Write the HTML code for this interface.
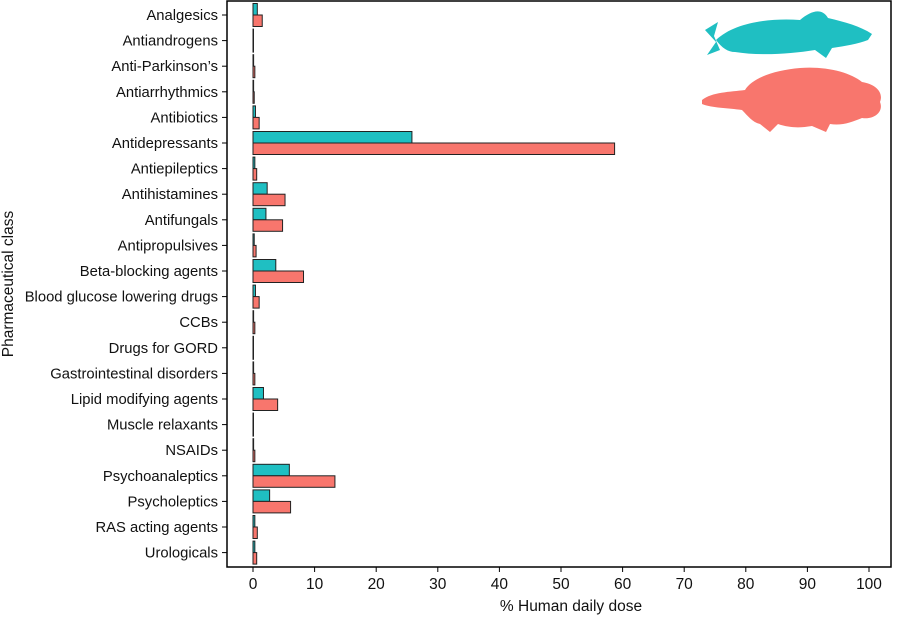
<!DOCTYPE html>
<html><head><meta charset="utf-8"><style>
body{margin:0;background:#fff;}
svg text{font-family:"Liberation Sans",sans-serif;fill:#111;}
</style></head><body>
<svg id="chart" width="900" height="616" xmlns="http://www.w3.org/2000/svg">
<g id="icons">
  <path fill="#1fbfc2" d="M705,30 L718,22 L714,36 L720,50 L707,55 L716,42 Z M716,40 C735,22 770,18 800,20 C812,10 822,8 828,18 C845,22 860,26 872,34 L868,40 C858,44 845,46 832,48 L826,58 L815,50 C790,54 760,56 735,52 C728,52 722,48 716,40 Z"/>
  <path fill="#f8766d" d="M702,100 C712,92 730,92 745,90 C752,78 775,70 800,68 C825,66 850,72 862,82 C875,84 884,92 880,102 C884,112 874,120 862,118 C852,122 842,126 830,124 L826,132 L812,126 C800,128 790,128 778,124 L770,132 L760,124 C752,122 748,116 742,110 C728,108 712,108 702,104 Z"/>
</g>
<g id="plot"></g>
</svg>
<script>
const categories=["Analgesics","Antiandrogens","Anti-Parkinson\u2019s","Antiarrhythmics","Antibiotics","Antidepressants","Antiepileptics","Antihistamines","Antifungals","Antipropulsives","Beta-blocking agents","Blood glucose lowering drugs","CCBs","Drugs for GORD","Gastrointestinal disorders","Lipid modifying agents","Muscle relaxants","NSAIDs","Psychoanaleptics","Psycholeptics","RAS acting agents","Urologicals"];
const fishValues=[0.7,0.02,0.1,0.1,0.4,25.8,0.3,2.3,2.1,0.2,3.7,0.4,0.1,0.02,0.1,1.7,0.02,0.1,5.9,2.7,0.3,0.3];
const platypusValues=[1.5,0.05,0.3,0.2,1.0,58.7,0.6,5.2,4.8,0.5,8.2,1.0,0.3,0.05,0.3,4.0,0.05,0.3,13.3,6.1,0.7,0.6];
const xTicks=[0,10,20,30,40,50,60,70,80,90,100];

const NS="http://www.w3.org/2000/svg";
const g=document.getElementById('plot');
const L=227,R=891,T=1,B=567;
const x=v=>253+v*6.16;
const y=i=>15+i*25.6;
function mk(tag,attrs){const e=document.createElementNS(NS,tag);for(const k in attrs)e.setAttribute(k,attrs[k]);g.appendChild(e);return e;}

const frame=mk('rect',{x:L,y:T,width:R-L,height:B-T,fill:'none',stroke:'#000','stroke-width':1.5});



categories.forEach((c,i)=>{
  const cy=y(i);
  const t=mk('line',{x1:L-5,x2:L,y1:cy,y2:cy,stroke:'#000','stroke-width':1});
  
  
  const lb=mk('text',{x:L-9,y:cy+5,'text-anchor':'end','font-size':14.8});
  lb.textContent=c;
  
  
  const b1=mk('rect',{x:x(0),y:cy-11.5,width:Math.max(0.5,x(fishValues[i])-x(0)),height:11.5,fill:'#1fbfc2',stroke:'#222','stroke-width':1});
  
  
  const b2=mk('rect',{x:x(0),y:cy,width:Math.max(0.5,x(platypusValues[i])-x(0)),height:11.5,fill:'#f8766d',stroke:'#222','stroke-width':1});
  
  
});

xTicks.forEach(v=>{
  const t=mk('line',{x1:x(v),x2:x(v),y1:B,y2:B+5,stroke:'#000','stroke-width':1});
  
  
  const lb=mk('text',{x:x(v),y:B+22,'text-anchor':'middle','font-size':15.5});
  lb.textContent=v;
  
  
});

const xt=mk('text',{x:571,y:611,'text-anchor':'middle','font-size':15.5});
xt.textContent='% Human daily dose';


const yt=mk('text',{x:0,y:0,'text-anchor':'middle','font-size':15.5,transform:'translate(13,'+((T+B)/2)+') rotate(-90)'});
yt.textContent='Pharmaceutical class';


</script>
</body></html>
